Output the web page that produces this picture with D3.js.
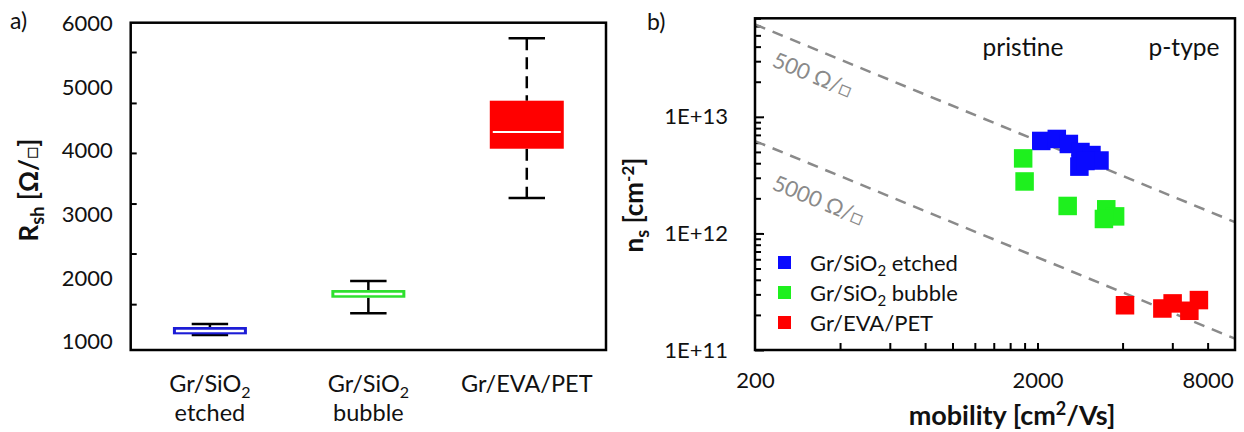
<!DOCTYPE html>
<html>
<head>
<meta charset="utf-8">
<style>
  body { margin: 0; background: #fff; }
  svg { display: block; }
  text { font-family: Lato, 'Open Sans', sans-serif; fill: #111; }
  .frame { fill: none; stroke: #000; stroke-width: 2.5; }
  .tick line { stroke: #000; stroke-width: 2; }
  .domain { display: none; }
</style>
</head>
<body>
<svg width="1244" height="432"></svg>
<script src="https://d3js.org/d3.v7.min.js"></script>
<script>
// ---- panel a) box plot data ----
const boxCats = ["etched", "bubble", "pet"];
const boxNames = [["Gr/SiO", "2", "etched"], ["Gr/SiO", "2", "bubble"], ["Gr/EVA/PET", "", ""]];
const boxMin = [1105, 1446, 3257];
const boxQ1 = [1116, 1691, 4031];
const boxMed = [1168, 1749, 4293];
const boxQ3 = [1231, 1812, 4785];
const boxMax = [1278, 1953, 5764];
const boxColors = ["#1c1cd6", "#2ee02e", "#ff0000"];
const rshLabels = [1000, 2000, 3000, 4000, 5000, 6000];
const rshTickMarks = [1590, 2385, 3170, 3965, 4750, 5550];

// ---- panel b) scatter data ----
const etchedMu = [2062, 2340, 2582, 2838, 3104, 3314, 2813, 2956];
const etchedNs = [6.21e12, 6.46e12, 5.85e12, 4.99e12, 4.70e12, 4.22e12, 3.74e12, 4.18e12];
const bubbleMu = [1779, 1800, 2557, 3502, 3764, 3436];
const bubbleNs = [4.40e12, 2.79e12, 1.72e12, 1.61e12, 1.40e12, 1.33e12];
const petMu = [4080, 5533, 6015, 6894, 7452];
const petNs = [2.42e11, 2.27e11, 2.51e11, 2.17e11, 2.68e11];
const seriesNames = ["Gr/SiO|2| etched", "Gr/SiO|2| bubble", "Gr/EVA/PET||"];
const seriesColors = ["#0a0aff", "#1ef01e", "#ff0000"];
const muTickMarks = [400, 600, 800, 1000, 1200, 1400, 1600, 1800, 2000, 4000, 6000, 8000];
const muLabels = [200, 2000, 8000];
const nsLabels = [1e11, 1e12, 1e13];
// constant sheet resistance guide lines (end points)
const line500 = [[200, 6.2e13], [10000, 1.25e12]];
const line5000 = [[200, 6.2e12], [10000, 1.25e11]];

const svg = d3.select("svg");

// ================= panel a =================
const A = { left: 130.7, right: 606, top: 22.7, bottom: 350 };
const xa = d3.scaleBand().domain(boxCats).range([A.left, A.right]);
const ya = d3.scaleLinear().domain([870, 6010]).range([A.bottom, A.top]);

svg.append("text").attr("x", 10).attr("y", 29).style("font-size", "23px").text("a)");

svg.append("g")
  .attr("transform", `translate(${A.left},0)`)
  .call(d3.axisLeft(ya).tickValues(rshLabels).tickSize(0).tickPadding(18).tickFormat(d3.format("d")))
  .call(g => g.selectAll("text").style("font-size", "22px").attr("fill", "#111"));

svg.append("g")
  .attr("transform", `translate(${A.left},0)`)
  .call(d3.axisRight(ya).tickValues(rshTickMarks).tickSize(6).tickFormat(""));

const bw = xa.bandwidth() * 0.467;
const cw = xa.bandwidth() * 0.23;
boxCats.forEach((c, i) => {
  const cx = xa(c) + xa.bandwidth() / 2;
  const g = svg.append("g");
  const dash = i === 2 ? "12 7" : null;
  g.append("line").attr("x1", cx).attr("x2", cx).attr("y1", ya(boxMax[i])).attr("y2", ya(boxQ3[i]))
    .attr("stroke", "#000").attr("stroke-width", 2.5).attr("stroke-dasharray", dash);
  g.append("line").attr("x1", cx).attr("x2", cx).attr("y1", ya(boxQ1[i])).attr("y2", ya(boxMin[i]))
    .attr("stroke", "#000").attr("stroke-width", 2.5).attr("stroke-dasharray", dash);
  [boxMax[i], boxMin[i]].forEach(v => {
    g.append("line").attr("x1", cx - cw / 2).attr("x2", cx + cw / 2).attr("y1", ya(v)).attr("y2", ya(v))
      .attr("stroke", "#000").attr("stroke-width", 2.5);
  });
  g.append("rect").attr("x", cx - bw / 2).attr("width", bw)
    .attr("y", ya(boxQ3[i])).attr("height", ya(boxQ1[i]) - ya(boxQ3[i]))
    .attr("fill", boxColors[i]);
  g.append("line").attr("x1", cx - bw / 2 + 3).attr("x2", cx + bw / 2 - 3)
    .attr("y1", ya(boxMed[i])).attr("y2", ya(boxMed[i]))
    .attr("stroke", "#fff").attr("stroke-width", i === 2 ? 2 : 2.5);

  const t = svg.append("text").attr("text-anchor", "middle").attr("x", cx).attr("y", 392).style("font-size", "23.5px");
  t.append("tspan").text(boxNames[i][0]);
  if (boxNames[i][1]) t.append("tspan").attr("dy", 6).style("font-size", "16px").text(boxNames[i][1]);
  if (boxNames[i][2]) {
    svg.append("text").attr("text-anchor", "middle").attr("x", cx).attr("y", 421).style("font-size", "23.5px").text(boxNames[i][2]);
  }
});

svg.append("rect").attr("class", "frame").attr("x", A.left).attr("y", A.top)
  .attr("width", A.right - A.left).attr("height", A.bottom - A.top);

const ta = svg.append("text").attr("transform", "translate(38,190) rotate(-90)")
  .attr("text-anchor", "middle").style("font-size", "26px").style("font-weight", "bold");
ta.append("tspan").text("R");
ta.append("tspan").attr("dy", 6).style("font-size", "18px").text("sh");
ta.append("tspan").attr("dy", -6).text(" [Ω/");
ta.append("tspan").style("font-weight", "normal").style("font-size", "20px").text("□");
ta.append("tspan").text("]");

// ================= panel b =================
const B = { left: 755, right: 1235, top: 18.3, bottom: 350 };
const xb = d3.scaleLog().domain([200, 10000]).range([B.left, B.right]);
const yb = d3.scaleLog().domain([1e11, 7e13]).range([B.bottom, B.top]);

svg.append("text").attr("x", 647).attr("y", 30).style("font-size", "23px").text("b)");

// y axis labels + ticks
svg.append("g")
  .attr("transform", `translate(${B.left},0)`)
  .call(d3.axisLeft(yb).tickValues(nsLabels).tickSize(0).tickPadding(27)
    .tickFormat(d => "1E+" + Math.round(Math.log10(d))))
  .call(g => g.selectAll("text").style("font-size", "22px").attr("fill", "#111"));
const minorNs = yb.ticks().filter(d => nsLabels.indexOf(d) < 0);
svg.append("g")
  .attr("transform", `translate(${B.left},0)`)
  .call(d3.axisRight(yb).tickValues(minorNs).tickSize(6).tickFormat(""));
svg.append("g")
  .attr("transform", `translate(${B.left},0)`)
  .call(d3.axisRight(yb).tickValues(nsLabels).tickSize(9).tickFormat(""));

// x axis
svg.append("g")
  .attr("transform", `translate(0,${B.bottom})`)
  .call(d3.axisBottom(xb).tickValues(muLabels).tickSize(0).tickPadding(22).tickFormat(d3.format("d")))
  .call(g => g.selectAll("text").style("font-size", "22px").attr("fill", "#111"));
svg.append("g")
  .attr("transform", `translate(0,${B.bottom})`)
  .call(d3.axisTop(xb).tickValues(muTickMarks).tickSize(7).tickFormat(""));

// guide lines
const lineGen = d3.line().x(d => xb(d[0])).y(d => yb(d[1]));
[line500, line5000].forEach(l => {
  svg.append("path").attr("d", lineGen(l)).attr("fill", "none")
    .attr("stroke", "#8a8a8a").attr("stroke-width", 2.5).attr("stroke-dasharray", "11 8");
});
const ang = Math.atan2(yb(line500[1][1]) - yb(line500[0][1]), xb(line500[1][0]) - xb(line500[0][0])) * 180 / Math.PI;
[["500 Ω/", 771, 66], ["5000 Ω/", 771, 189]].forEach(([s, x, y]) => {
  const t = svg.append("text").attr("transform", `translate(${x},${y}) rotate(${ang})`)
    .style("font-size", "22px").style("fill", "#8a8a8a");
  t.append("tspan").text(s);
  t.append("tspan").style("font-size", "20px").text("□");
});

svg.append("text").attr("x", 1023).attr("y", 56).attr("text-anchor", "middle").style("font-size", "24.5px").text("pristine");
svg.append("text").attr("x", 1184).attr("y", 56).attr("text-anchor", "middle").style("font-size", "24.5px").text("p-type");

// points
const sq = 18.5;
[[etchedMu, etchedNs], [bubbleMu, bubbleNs], [petMu, petNs]].forEach(([mu, ns], k) => {
  svg.append("g").selectAll("rect")
    .data(mu.map((m, i) => [m, ns[i]]))
    .join("rect")
    .attr("x", d => xb(d[0]) - sq / 2)
    .attr("y", d => yb(d[1]) - sq / 2)
    .attr("width", sq).attr("height", sq)
    .attr("fill", seriesColors[k]);
});

// legend
seriesNames.forEach((n, k) => {
  const cy = 263 + k * 30;
  svg.append("rect").attr("x", 778).attr("y", cy - 7).attr("width", 13).attr("height", 13).attr("fill", seriesColors[k]);
  const parts = n.split("|");
  const t = svg.append("text").attr("x", 810).attr("y", cy + 8).style("font-size", "22px");
  t.append("tspan").text(parts[0]);
  if (parts[1]) {
    t.append("tspan").attr("dy", 5).style("font-size", "15px").text(parts[1]);
    t.append("tspan").attr("dy", -5).text(parts[2]);
  }
});

svg.append("rect").attr("class", "frame").attr("x", B.left).attr("y", B.top)
  .attr("width", B.right - B.left).attr("height", B.bottom - B.top);

const tb = svg.append("text").attr("transform", "translate(643,205) rotate(-90)")
  .attr("text-anchor", "middle").style("font-size", "26px").style("font-weight", "bold");
tb.append("tspan").text("n");
tb.append("tspan").attr("dy", 6).style("font-size", "18px").text("s");
tb.append("tspan").attr("dy", -6).text(" [cm");
tb.append("tspan").attr("dy", -9).style("font-size", "17px").text("-2");
tb.append("tspan").attr("dy", 9).text("]");

const tx = svg.append("text").attr("x", 1012).attr("y", 425).attr("text-anchor", "middle")
  .style("font-size", "27px").style("font-weight", "bold");
tx.append("tspan").text("mobility [cm");
tx.append("tspan").attr("dy", -10).style("font-size", "18px").text("2");
tx.append("tspan").attr("dy", 10).text("/Vs]");
</script>
</body>
</html>
